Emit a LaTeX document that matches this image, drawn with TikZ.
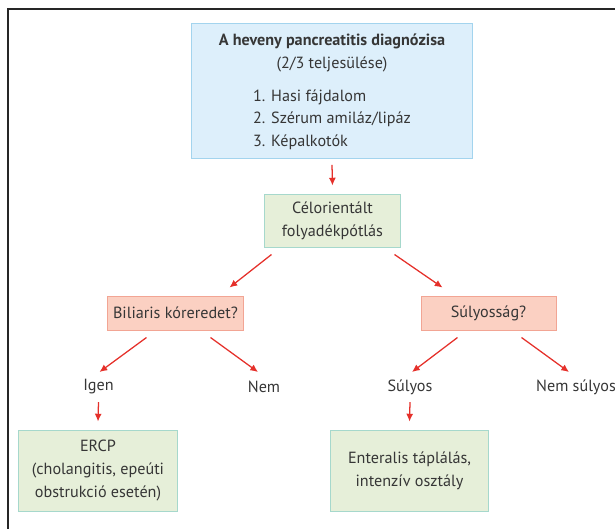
\documentclass[tikz,border=0pt]{standalone}
\usepackage{fontspec}
\setmainfont{PT Sans}
\usetikzlibrary{arrows.meta,calc}
\definecolor{txt}{HTML}{363636}
\definecolor{arrred}{HTML}{E5302A}
\definecolor{bluefill}{HTML}{DDEFFB}
\definecolor{blueline}{HTML}{A3D4EE}
\definecolor{greenfill}{HTML}{E6EFD9}
\definecolor{greenline}{HTML}{A6D8CC}
\definecolor{redfill}{HTML}{FBD0C2}
\definecolor{redline}{HTML}{F2A594}
\tikzset{arr/.style={draw=arrred,line width=0.9pt,-{Latex[length=5.5pt,width=5pt]}}}
\tikzset{bluebox/.style={draw=blueline,fill=bluefill,line width=0.7pt,align=center}}
\tikzset{greenbox/.style={draw=greenline,fill=greenfill,line width=0.7pt,align=center}}
\tikzset{redbox/.style={draw=redline,fill=redfill,line width=0.7pt,align=center,minimum width=3.375cm,minimum height=0.85cm}}
\tikzset{answer/.style={inner sep=1pt}}
\tikzset{frame/.style={draw=black!85,line width=1.1pt}}

\begin{document}
\begin{tikzpicture}[x=0.025cm,y=-0.025cm,font=\fontsize{11.5}{16.3}\selectfont,text=txt]
    \useasboundingbox (0,0) rectangle (615,529);
    \draw[frame] (615,9) -- (8,9) -- (8,529);
    \node[bluebox,minimum width=7cm,minimum height=3.3cm] (diag) at (332,91)
      {\rule{0pt}{12.5pt}\textbf{A heveny pancreatitis diagnózisa}\\(2/3 teljesülése)\\[8pt]
       \begin{tabular}{@{}l@{}}1. Hasi fájdalom\\2. Szérum amiláz/lipáz\\3. Képalkotók\end{tabular}};
    \node[greenbox,minimum width=3.375cm,minimum height=1.325cm] (fluid) at (332.5,220.5) {Célorientált\\folyadékpótlás};
    \node[redbox] (bil) at (175.5,313) {Biliaris kóreredet?};
    \node[redbox] (sev) at (488.5,313) {Súlyosság?};
    \node[answer] (igen) at (98.5,387) {Igen};
    \node[answer] (nem) at (264,387) {Nem};
    \node[answer] (sul) at (410,387) {Súlyos};
    \node[answer] (nemsul) at (576,387) {Nem súlyos};
    \node[greenbox,minimum width=3.95cm,minimum height=2.025cm] (ercp) at (98,470.5) {ERCP\\(cholangitis, epeúti\\obstrukció esetén)};
    \node[greenbox,minimum width=3.925cm,minimum height=2.025cm] (ent) at (409.5,470.5) {Enteralis táplálás,\\intenzív osztály};
    \draw[arr] ($(diag.south)+(0,6)$) -- ($(fluid.north)+(0,-8)$);
    \draw[arr] ($(fluid.south west)+(7,7)$) -- ($(bil.north east)+(-14,-8)$);
    \draw[arr] ($(fluid.south east)+(-6,7)$) -- ($(sev.north west)+(22,-8)$);
    \draw[arr] ($(bil.south west)+(39,7)$) -- ($(igen)+(1,-15)$);
    \draw[arr] ($(bil.south east)+(-33,7)$) -- ($(nem)+(-6,-15)$);
    \draw[arr] ($(sev.south west)+(37,7)$) -- ($(sul)+(2,-15)$);
    \draw[arr] ($(sev.south east)+(-35,7)$) -- ($(nemsul)+(-7,-15)$);
    \draw[arr] ($(igen)+(0,15)$) -- ($(ercp.north)+(0,-8)$);
    \draw[arr] ($(sul)+(0,15)$) -- ($(ent.north)+(0,-8)$);
\end{tikzpicture}
\end{document}
